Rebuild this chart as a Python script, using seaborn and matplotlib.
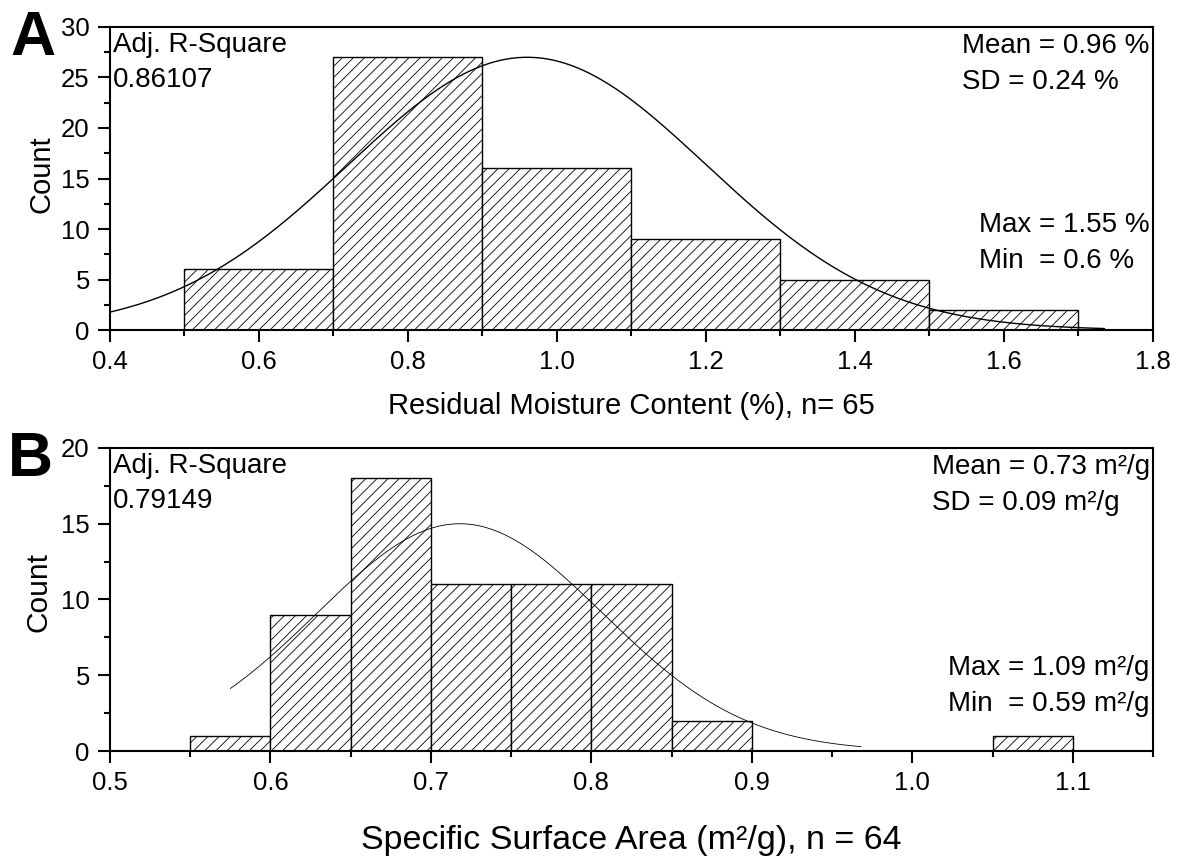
import numpy as np
import pandas as pd
import matplotlib
matplotlib.use("Agg")
import matplotlib.pyplot as plt
import seaborn as sns
from matplotlib.ticker import MultipleLocator, FormatStrFormatter

# Panel A: residual moisture content histogram (bin edges and counts)
moisture_edges = [0.5, 0.7, 0.9, 1.1, 1.3, 1.5, 1.7]
moisture_counts = [6, 27, 16, 9, 5, 2]
moisture_fit_mean = 0.96
moisture_fit_sd = 0.24
moisture_fit_amp = 27.0
moisture_fit_range = (0.4, 1.735)

# Panel B: specific surface area histogram (bin edges and counts)
area_edges = [0.55, 0.60, 0.65, 0.70, 0.75, 0.80, 0.85, 0.90, 0.95, 1.00, 1.05, 1.10]
area_counts = [1, 9, 18, 11, 11, 11, 2, 0, 0, 0, 1]
area_fit_mean = 0.718
area_fit_sd = 0.089
area_fit_amp = 15.0
area_fit_range = (0.575, 0.968)

moisture_ticks = ["0.4", "0.6", "0.8", "1.0", "1.2", "1.4", "1.6", "1.8"]
area_ticks = ["0.5", "0.6", "0.7", "0.8", "0.9", "1.0", "1.1"]

sns.set_theme(style="ticks")
plt.rcParams["font.family"] = ["Liberation Sans", "DejaVu Sans"]
plt.rcParams["hatch.linewidth"] = 0.6
plt.rcParams["hatch.color"] = "black"
for key in ["text.color", "axes.labelcolor", "xtick.color", "ytick.color",
            "xtick.labelcolor", "ytick.labelcolor", "axes.edgecolor"]:
    plt.rcParams[key] = "black"

fig = plt.figure(figsize=(11.84, 8.59), dpi=100)
axA = fig.add_axes([0.0929, 0.6158, 0.8809, 0.3528])
axB = fig.add_axes([0.0929, 0.1257, 0.8809, 0.3528])


def draw_hist(ax, edges, counts, fit_mean, fit_sd, fit_amp, fit_range, curve_lw):
    e = np.asarray(edges, dtype=float)
    df = pd.DataFrame({"value": (e[:-1] + e[1:]) / 2, "count": counts})
    sns.histplot(data=df, x="value", weights="count", bins=list(edges), ax=ax,
                 color="white", edgecolor="black", linewidth=1.0,
                 alpha=1.0, hatch="///", zorder=2)
    xs = np.linspace(fit_range[0], fit_range[1], 400)
    ys = fit_amp * np.exp(-(xs - fit_mean) ** 2 / (2 * fit_sd ** 2))
    sns.lineplot(x=xs, y=ys, ax=ax, color="black", linewidth=curve_lw, zorder=3)


draw_hist(axA, moisture_edges, moisture_counts, moisture_fit_mean,
          moisture_fit_sd, moisture_fit_amp, moisture_fit_range, 1.0)
draw_hist(axB, area_edges, area_counts, area_fit_mean,
          area_fit_sd, area_fit_amp, area_fit_range, 0.6)


def style_axes(ax, xlim, ylim, xmaj, xmin, tick_labels):
    ax.set_xlim(*xlim)
    ax.set_ylim(*ylim)
    ax.xaxis.set_minor_locator(MultipleLocator(xmin))
    ax.yaxis.set_major_locator(MultipleLocator(5))
    ax.yaxis.set_minor_locator(MultipleLocator(2.5))
    ticks = [xlim[0] + i * xmaj for i in range(len(tick_labels))]
    ax.set_xticks(ticks)
    ax.set_xticklabels(tick_labels)
    ax.yaxis.set_major_formatter(FormatStrFormatter("%d"))
    ax.tick_params(which="both", direction="out", top=False, right=False,
                   bottom=True, left=True,
                   width=1.5, color="black", labelcolor="black",
                   labelsize=18.5, pad=6)
    ax.tick_params(which="major", length=8.5)
    ax.tick_params(which="minor", length=4)
    for s in ax.spines.values():
        s.set_visible(True)
        s.set_linewidth(1.5)
        s.set_color("black")
    ax.set_facecolor("white")


style_axes(axA, (0.4, 1.8), (0, 30), 0.2, 0.1, moisture_ticks)
style_axes(axB, (0.5, 1.15), (0, 20), 0.1, 0.05, area_ticks)

axA.set_xlabel("Residual Moisture Content (%), n= 65", fontsize=21)
axA.xaxis.set_label_coords(0.5, -0.205)
axA.set_ylabel("Count", fontsize=21)
axA.yaxis.set_label_coords(-0.052, 0.515)

axB.set_xlabel("Specific Surface Area (m²/g), n = 64", fontsize=24.5)
axB.xaxis.set_label_coords(0.5, -0.245)
axB.set_ylabel("Count", fontsize=21.5)
axB.yaxis.set_label_coords(-0.055, 0.525)

ann = dict(fontsize=20, color="black")
for ax, r2, stats_top, stats_bot, bot_y in [
    (axA, "0.86107", "Mean = 0.96 %\nSD = 0.24 %", "Max = 1.55 %\nMin  = 0.6 %", 0.389),
    (axB, "0.79149", "Mean = 0.73 m²/g\nSD = 0.09 m²/g", "Max = 1.09 m²/g\nMin  = 0.59 m²/g", 0.317),
]:
    ax.text(0.003, 0.983, "Adj. R-Square\n" + r2, transform=ax.transAxes,
            ha="left", va="top", linespacing=1.45, **ann)
    ax.text(0.997, 0.98, stats_top, transform=ax.transAxes,
            ha="right", va="top", multialignment="left", linespacing=1.5, **ann)
    ax.text(0.997, bot_y, stats_bot, transform=ax.transAxes,
            ha="right", va="top", multialignment="left", linespacing=1.5, **ann)

fig.text(10 / 1184, 1 - 55 / 859, "A", fontsize=45, fontweight="bold", va="baseline", ha="left")
fig.text(8 / 1184, 1 - 476 / 859, "B", fontsize=45, fontweight="bold", va="baseline", ha="left")

fig.savefig("out.png", dpi=100, facecolor="white")
